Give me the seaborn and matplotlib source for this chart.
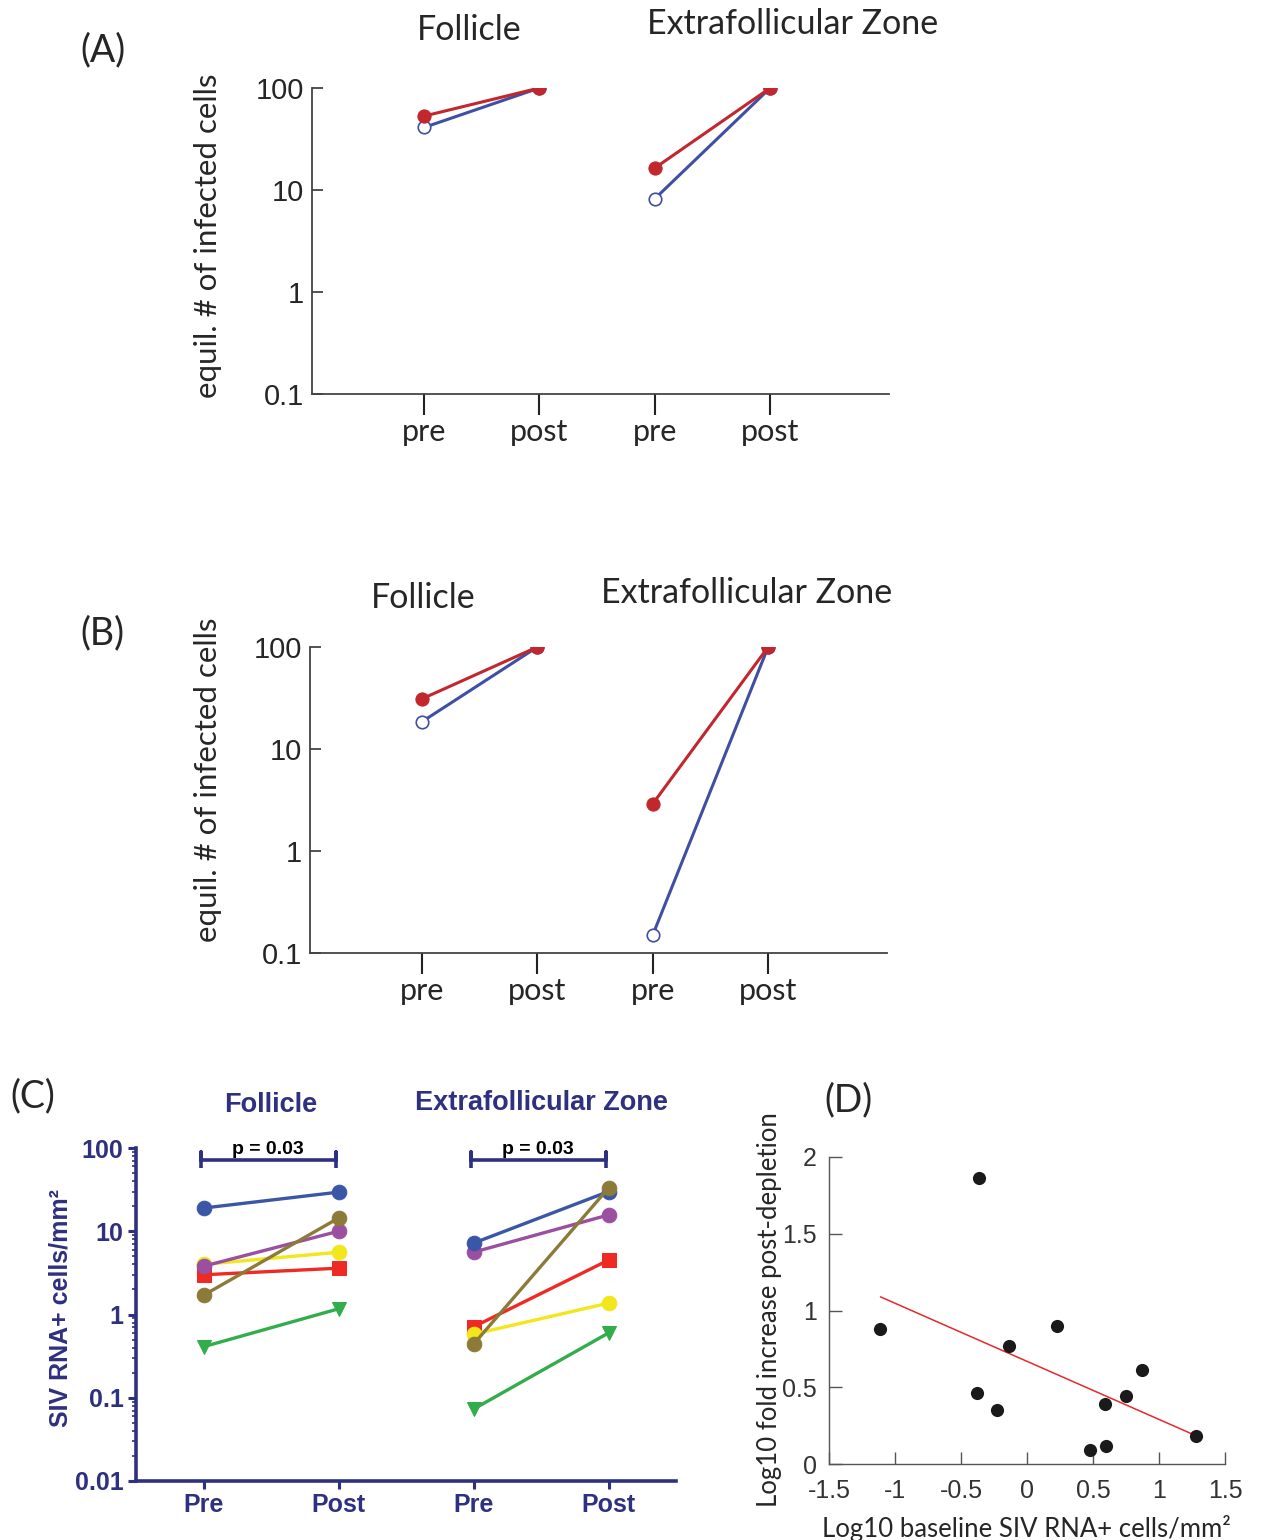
import numpy as np
import pandas as pd
import seaborn as sns
import matplotlib.pyplot as plt
from matplotlib.ticker import NullLocator, LogLocator

# ---- panels A / B : model equilibrium, pre vs post depletion
model_x = [1, 2, 3, 4]
model_group = ['Follicle', 'Follicle', 'EFZ', 'EFZ']
model_xlabels = ['pre', 'post', 'pre', 'post']
a_red = [53, 100, 16.4, 100]
a_blue = [41, 100, 8.2, 100]
b_red = [31, 100, 2.9, 100]
b_blue = [18.5, 100, 0.15, 100]

# ---- panel C : SIV RNA+ cells/mm2, six animals
c_colors = ['#33AD4B', '#EE2A24', '#F2E61C', '#9B4FA0', '#3A57A7', '#8C7B38']
c_markers = ['v', 's', 'o', 'o', 'o', 'o']
fol_pre = [0.41, 3.0, 4.0, 3.8, 19.0, 1.7]
fol_post = [1.17, 3.6, 5.6, 10.0, 29.5, 14.4]
efz_pre = [0.073, 0.71, 0.58, 5.6, 7.2, 0.44]
efz_post = [0.60, 4.5, 1.37, 15.7, 30.0, 33.0]
c_xlabels = ['Pre', 'Post', 'Pre', 'Post']

# ---- panel D : baseline vs fold increase
d_x = [-1.11, -0.36, -0.38, -0.23, -0.14, 0.23, 0.48, 0.59, 0.60, 0.75, 0.87, 1.28]
d_y = [0.88, 1.86, 0.46, 0.35, 0.77, 0.90, 0.09, 0.39, 0.12, 0.44, 0.61, 0.18]

sns.set_style('ticks')
plt.rcParams['font.family'] = ['Lato', 'DejaVu Sans']

W, H = 1269, 1540
fig = plt.figure(figsize=(W / 100, H / 100), dpi=100)


def rect(l, t, r, b):
    return [l / W, 1 - b / H, (r - l) / W, (b - t) / H]


def ftext(x, y, s, **kw):
    fig.text(x / W, 1 - y / H, s, ha='center', va='center', **kw)


narrow = ['Liberation Sans Narrow', 'Liberation Sans']
arial = ['Liberation Sans', 'DejaVu Sans']
red, blue = '#C1272D', '#3F4FA3'


def model_panel(ax, red_vals, blue_vals):
    df_b = pd.DataFrame({'x': model_x, 'y': blue_vals, 'g': model_group})
    df_r = pd.DataFrame({'x': model_x, 'y': red_vals, 'g': model_group})
    sns.lineplot(data=df_b, x='x', y='y', units='g', estimator=None, ax=ax,
                 color=blue, lw=2.2, marker='o', ms=9, mfc='white', mec=blue, mew=1.2)
    sns.lineplot(data=df_r, x='x', y='y', units='g', estimator=None, ax=ax,
                 color=red, lw=2.2, marker='o', ms=9.5, mfc=red, mec=red)
    ax.set_yscale('log')
    ax.set_ylim(0.1, 100)
    ax.set_xlim(0.03, 5.03)
    ax.set_yticks([0.1, 1, 10, 100])
    ax.set_yticklabels(['0.1', '1', '10', '100'], family=narrow, fontsize=21)
    ax.yaxis.set_minor_locator(NullLocator())
    ax.set_xticks(model_x)
    ax.set_xticklabels(model_xlabels, fontsize=22)
    ax.tick_params(axis='x', direction='out', length=15, width=1.5, color='#222', pad=2)
    ax.tick_params(axis='y', direction='in', length=8, width=1.3, color='#444', pad=6)
    for s in ['top', 'right']:
        ax.spines[s].set_visible(False)
    for s in ['left', 'bottom']:
        ax.spines[s].set_color('#444')
        ax.spines[s].set_linewidth(1.3)
    ax.set_xlabel('')
    ax.set_ylabel('')


# ---- A
axA = fig.add_axes(rect(312, 88, 889, 394))
model_panel(axA, a_red, a_blue)
ftext(103, 50, '(A)', fontsize=27)
ftext(469, 30, 'Follicle', fontsize=24.5)
ftext(793, 24, 'Extrafollicular Zone', fontsize=24.5)
ftext(208, 236, 'equil. # of infected cells', fontsize=22.5, rotation=90)

# ---- B
axB = fig.add_axes(rect(310, 647, 887, 953))
model_panel(axB, b_red, b_blue)
ftext(102, 633, '(B)', fontsize=27)
ftext(423, 598, 'Follicle', fontsize=24.5)
ftext(747, 593, 'Extrafollicular Zone', fontsize=24.5)
ftext(208, 780, 'equil. # of infected cells', fontsize=22.5, rotation=90)

# ---- C
navy = '#2E3080'
axC = fig.add_axes(rect(136, 1148, 676, 1481))
for i in range(len(c_colors)):
    df = pd.DataFrame({'x': model_x,
                       'y': [fol_pre[i], fol_post[i], efz_pre[i], efz_post[i]],
                       'g': model_group})
    sns.lineplot(data=df, x='x', y='y', units='g', estimator=None, ax=axC,
                 color=c_colors[i], lw=2.4, marker=c_markers[i], ms=10.5,
                 mfc=c_colors[i], mec=c_colors[i])
axC.set_yscale('log')
axC.set_ylim(0.01, 100)
axC.set_xlim(0.5, 4.5)
axC.set_yticks([0.01, 0.1, 1, 10, 100])
axC.set_yticklabels(['0.01', '0.1', '1', '10', '100'], family=narrow,
                    fontweight='bold', fontsize=18, color=navy)
axC.yaxis.set_minor_locator(LogLocator(base=10, subs=np.arange(2, 10)))
axC.set_xticks(model_x)
axC.set_xticklabels(c_xlabels, family=arial, fontweight='bold', fontsize=18, color=navy)
axC.tick_params(axis='both', which='major', direction='out', length=6, width=2.2,
                color=navy, pad=3)
axC.tick_params(axis='y', which='minor', direction='out', length=3, width=1.2,
                color=navy)
for s in ['top', 'right']:
    axC.spines[s].set_visible(False)
for s in ['left', 'bottom']:
    axC.spines[s].set_color(navy)
    axC.spines[s].set_linewidth(2.6)
axC.set_xlabel('')
axC.set_ylabel('')

# significance brackets
for x0, x1 in [(0.98, 1.98), (2.98, 3.98)]:
    axC.plot([x0, x0, x0, x1, x1, x1], [57, 90, 72, 72, 90, 57], color=navy, lw=2.6,
             solid_capstyle='butt')
    axC.text((x0 + x1) / 2, 76, 'p = 0.03', ha='center', va='bottom',
             family=arial, fontweight='bold', fontsize=14, color='black')

ftext(33, 1096, '(C)', fontsize=27)
ftext(271, 1105, 'Follicle', family=arial, fontweight='bold', fontsize=19.5, color=navy)
ftext(541, 1103, 'Extrafollicular Zone', family=arial, fontweight='bold',
      fontsize=19.5, color=navy)
ftext(60, 1308, 'SIV RNA+ cells/mm²', family=arial, fontweight='bold', fontsize=18,
      color=navy, rotation=90)

# ---- D
axD = fig.add_axes(rect(829, 1157, 1225, 1464))
sns.regplot(x=d_x, y=d_y, ci=None, ax=axD, truncate=True,
            scatter_kws=dict(s=90, color='#1a1a1a', alpha=1, zorder=3, linewidths=0),
            line_kws=dict(color='#E8282B', lw=1.1, zorder=2))
axD.set_xlim(-1.5, 1.5)
axD.set_ylim(0, 2)
axD.set_xticks([-1.5, -1, -0.5, 0, 0.5, 1, 1.5])
axD.set_xticklabels(['-1.5', '-1', '-0.5', '0', '0.5', '1', '1.5'],
                    family=arial, fontsize=18, color='#333')
axD.set_yticks([0, 0.5, 1, 1.5, 2])
axD.set_yticklabels(['0', '0.5', '1', '1.5', '2'], family=arial, fontsize=18, color='#333')
axD.tick_params(axis='x', direction='in', length=9, width=1, color='#555', pad=11)
axD.tick_params(axis='y', direction='in', length=9, width=1, color='#555', pad=9)
for s in ['top', 'right']:
    axD.spines[s].set_visible(False)
for s in ['left', 'bottom']:
    axD.spines[s].set_color('#555')
    axD.spines[s].set_linewidth(1)
axD.set_xlabel('')
axD.set_ylabel('')
ftext(849, 1100, '(D)', fontsize=27)
ftext(1026, 1528, 'Log10 baseline SIV RNA+ cells/mm²', fontsize=18.5)
ftext(770, 1310, 'Log10 fold increase post-depletion', fontsize=18.5, rotation=90)

fig.savefig('out.png', dpi=100, facecolor='white')
